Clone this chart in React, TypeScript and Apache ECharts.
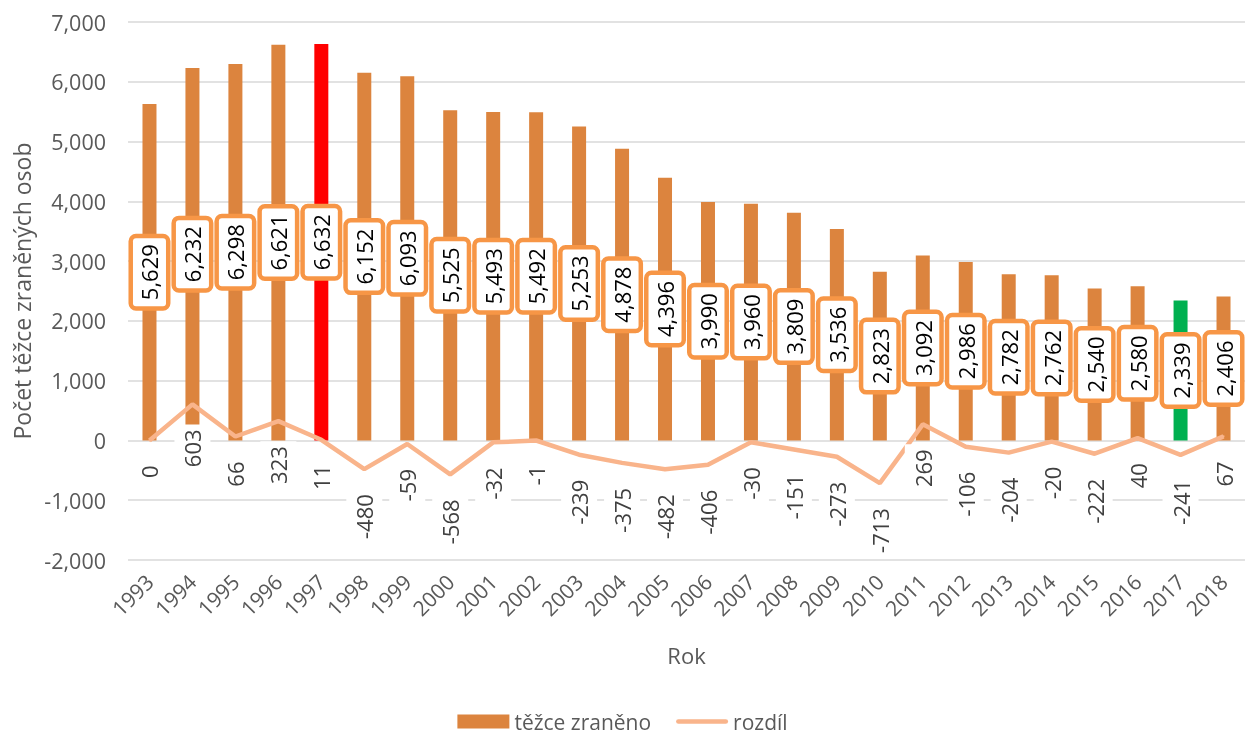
import React, { useEffect, useRef } from "react";
import * as echarts from "echarts";

const years = ["1993","1994","1995","1996","1997","1998","1999","2000","2001","2002","2003","2004","2005","2006","2007","2008","2009","2010","2011","2012","2013","2014","2015","2016","2017","2018"];
const injured = [5629,6232,6298,6621,6632,6152,6093,5525,5493,5492,5253,4878,4396,3990,3960,3809,3536,2823,3092,2986,2782,2762,2540,2580,2339,2406];
const diff = [0,603,66,323,11,-480,-59,-568,-32,-1,-239,-375,-482,-406,-30,-151,-273,-713,269,-106,-204,-20,-222,40,-241,67];
const maxYear = "1997";
const minYear = "2017";
const yTicks = { min: -2000, max: 7000, interval: 1000 };

const FONT = "'Open Sans', 'Noto Sans', sans-serif";
const TXT = "#595959";
const BAR = "#DC843E";
const LINE = "#F9B48B";
const fmt = (v: number) => v.toLocaleString("en-US");

export default function App() {
  const ref = useRef<HTMLDivElement>(null);
  useEffect(() => {
    if (!ref.current) return;
    const chart = echarts.init(ref.current, undefined, { renderer: "svg" });
    const barData = injured.map((v, i) => {
      if (years[i] === maxYear) return { value: v, itemStyle: { color: "#FF0000" } };
      if (years[i] === minYear) return { value: v, itemStyle: { color: "#00B050" } };
      return v;
    });
    chart.setOption({
      animation: false,
      textStyle: { fontFamily: FONT },
      grid: { left: 128, right: 0, top: 22, bottom: 178 },
      legend: {
        bottom: 1,
        left: "center",
        itemWidth: 52,
        itemHeight: 14,
        itemGap: 25,
        textStyle: { fontSize: 21, color: TXT, fontFamily: FONT },
        data: [
          { name: "těžce zraněno", icon: "rect" },
          { name: "rozdíl", icon: "path://M2,0 L53,0 A2.5,2.5 0 0 1 53,5 L2,5 A2.5,2.5 0 0 1 2,0 Z", itemStyle: { color: LINE } },
        ],
      },
      xAxis: {
        type: "category",
        data: years,
        name: "Rok",
        nameLocation: "middle",
        nameGap: 84,
        nameTextStyle: { fontSize: 22, color: TXT, fontFamily: FONT },
        axisLine: { show: false, onZero: false },
        axisTick: { show: false },
        axisLabel: { rotate: 45, fontSize: 21, color: TXT, margin: 18, fontFamily: FONT },
      },
      yAxis: {
        type: "value",
        min: yTicks.min,
        max: yTicks.max,
        interval: yTicks.interval,
        name: "Počet těžce zraněných osob",
        nameLocation: "middle",
        nameGap: 95,
        nameTextStyle: { fontSize: 23, color: TXT, fontFamily: FONT },
        axisLabel: { fontSize: 21.5, color: TXT, margin: 22, formatter: (v: number) => fmt(v), fontFamily: FONT },
        splitLine: { lineStyle: { color: "#D9D9D9", width: 1.5 } },
        axisLine: { show: false },
        axisTick: { show: false },
      },
      series: [
        {
          name: "těžce zraněno",
          type: "bar",
          data: barData,
          barWidth: 14,
          itemStyle: { color: BAR },
          z: 2,
          label: {
            show: true,
            position: "inside",
            rotate: 90,
            fontSize: 22,
            fontFamily: FONT,
            color: "#000",
            lineHeight: 23,
            backgroundColor: "#fff",
            borderColor: "#F79646",
            borderWidth: 4.5,
            borderRadius: 3,
            padding: [5, 6],
            formatter: (p: any) => fmt(p.value),
          },
        },
        {
          name: "rozdíl",
          type: "line",
          data: diff,
          z: 3,
          symbol: "circle",
          symbolSize: 2,
          showSymbol: true,
          itemStyle: { color: LINE },
          lineStyle: { color: LINE, width: 4.5 },
          label: {
            show: true,
            position: "bottom",
            distance: 19,
            rotate: 90,
            align: "right",
            verticalAlign: "middle",
            fontSize: 22,
            fontFamily: FONT,
            color: "#404040",
            lineHeight: 22,
            backgroundColor: "#fff",
            padding: [7, 5],
            formatter: (p: any) => String(p.value),
          },
        },
      ],
    });
    return () => chart.dispose();
  }, []);
  return <div ref={ref} style={{ position: "fixed", left: 0, top: 0, width: 1245, height: 738 }} />;
}
